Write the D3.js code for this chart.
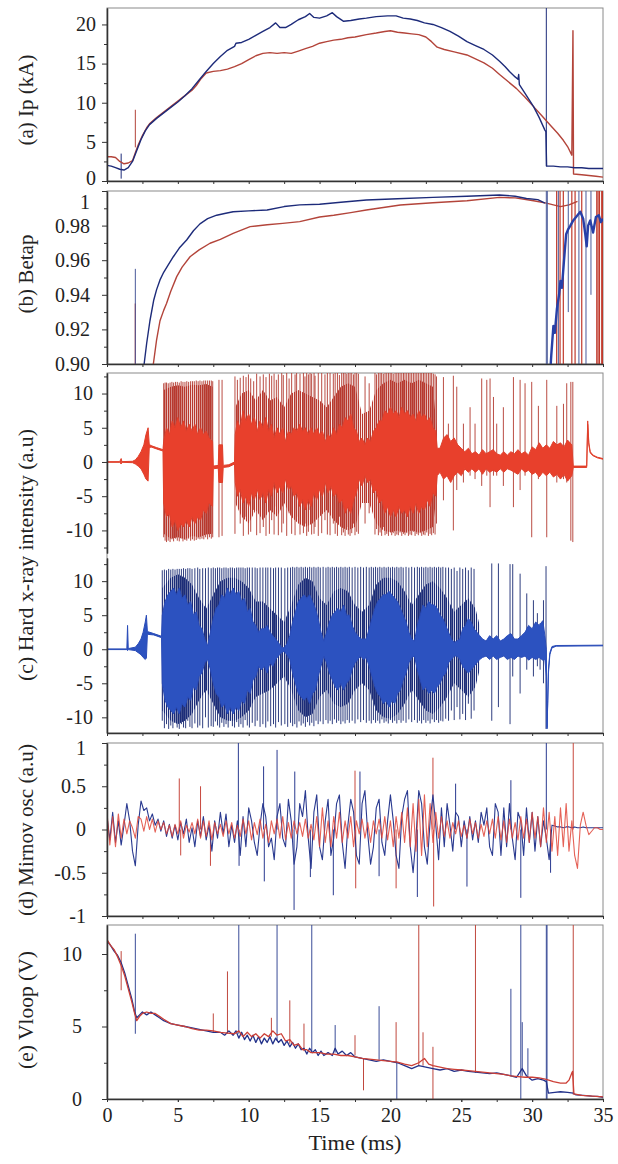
<!DOCTYPE html>
<html>
<head>
<meta charset="utf-8">
<script src="https://cdn.jsdelivr.net/npm/d3@7"></script>
<style>
  html, body { margin: 0; padding: 0; background: #fff; }
  svg { display: block; }
  svg text { font-family: "Liberation Serif", "Liberation Sans", Arial, sans-serif; fill: #222; }
</style>
</head>
<body>
<svg id="chart" width="618" height="1164"></svg>
<script>
// ---------------- tick values ----------------
const timeTicks = [0, 5, 10, 15, 20, 25, 30, 35];
const timeMinorTicks = [0, 2.5, 5, 7.5, 10, 12.5, 15, 17.5, 20, 22.5, 25, 27.5, 30, 32.5, 35];
const ipTicks = [0, 5, 10, 15, 20];
const ipMinor = [2.5, 7.5, 12.5, 17.5];
const betapTicks = [0.90, 0.92, 0.94, 0.96, 0.98, 1.0];
const betapTickLabels = ["0.90", "0.92", "0.94", "0.96", "0.98", "1"];
const betapMinor = [0.91, 0.93, 0.95, 0.97, 0.99];
const xrayTicks = [-10, -5, 0, 5, 10];
const xrayMinor = [-12.5, -7.5, -2.5, 2.5, 7.5, 12.5];
const mirnovTicks = [-1, -0.5, 0, 0.5, 1];
const mirnovTickLabels = ["-1", "-0.5", "0", "0.5", "1"];
const mirnovMinor = [-0.75, -0.25, 0.25, 0.75];
const vloopTicks = [0, 5, 10];
const vloopMinor = [2.5, 7.5];

// ---------------- (a) plasma current, kA : [time ms, value] ----------------
const ipShot1 = [[0,2.0],[0.3,1.9],[0.6,1.7],[0.9,1.5],[1.2,1.4],[1.5,1.7],[1.8,2.5],[2.1,3.9],[2.4,5.3],[2.7,6.4],[3.0,7.2],[3.5,8.0],[4.0,8.7],[4.5,9.4],[5.0,10.1],[5.5,10.9],[6.0,11.8],[6.5,12.9],[7.0,14.0],[7.5,15.0],[8.0,15.9],[8.5,16.7],[9.0,17.2],[9.1,17.6],[9.5,17.7],[10.0,18.1],[10.5,18.6],[11.0,19.1],[11.5,19.6],[11.9,20.2],[12.2,19.6],[12.6,19.6],[13.0,20.0],[13.5,20.6],[14.0,21.0],[14.3,21.4],[14.6,20.9],[15.0,20.8],[15.5,21.1],[15.9,21.5],[16.2,21.0],[16.7,20.4],[17.2,20.5],[17.8,20.7],[18.3,20.8],[19.0,21.0],[19.8,21.1],[20.4,21.1],[20.9,20.8],[21.4,20.7],[21.9,20.5],[22.4,20.2],[23.0,20.0],[23.6,19.6],[24.2,19.1],[24.8,18.5],[25.4,17.8],[26.0,17.3],[26.6,16.8],[27.2,16.1],[27.7,15.3],[28.1,14.6],[28.4,14.0],[28.8,13.3],[29.0,13.0],[29.05,13.6],[29.1,12.3],[29.5,11.2],[30.1,9.5],[30.5,8.1],[30.9,6.5],[30.97,6.3],[31.02,1.9],[31.5,1.9],[32.0,1.8],[32.5,1.8],[33.0,1.7],[33.5,1.7],[34.0,1.6],[34.5,1.6],[35,1.6]];
const ipShot2 = [[0,3.1],[0.3,3.1],[0.6,3.0],[0.9,2.5],[1.2,2.2],[1.5,2.3],[1.8,2.6],[2.0,3.6],[2.2,4.6],[2.5,5.8],[2.8,6.8],[3.0,7.3],[3.5,8.1],[4.0,8.8],[4.5,9.5],[5.0,10.2],[5.5,10.9],[6.0,11.6],[6.3,12.2],[6.6,13.0],[7.0,13.8],[7.5,14.0],[8.0,14.1],[8.5,14.3],[9.0,14.6],[9.5,15.0],[10.0,15.5],[10.5,16.0],[11.0,16.3],[11.5,16.4],[12.0,16.3],[12.5,16.4],[13.0,16.3],[13.5,16.6],[14.0,16.9],[14.5,17.2],[15.0,17.6],[15.5,17.8],[16.0,18.0],[16.5,18.1],[17.0,18.3],[17.5,18.4],[18.3,18.7],[19.0,18.9],[19.6,19.1],[20.0,19.2],[20.5,19.0],[21.0,18.9],[21.5,18.8],[22.0,18.7],[22.5,18.4],[22.9,17.8],[23.3,17.1],[23.8,16.8],[24.5,16.5],[25.4,16.1],[26.0,15.6],[26.6,15.1],[27.2,14.4],[27.7,13.6],[28.3,12.7],[28.9,11.8],[29.5,10.7],[30.1,9.5],[30.7,8.3],[31.3,7.1],[31.8,6.1],[32.2,5.2],[32.5,4.4],[32.8,3.3],[32.88,19.2],[32.92,0.9],[33.5,0.8],[34.0,0.7],[34.5,0.6],[35,0.5]];
// isolated spikes : [time, low, high]
const ipSpikes1 = [[1.0,0.3,3.5],[31.0,1.9,23]];
const ipSpikes2 = [[2.0,4.3,9.1]];

// ---------------- (b) poloidal beta ----------------
const betapShot1 = [[2.55,0.88],[2.62,0.9],[2.8,0.912],[3.03,0.925],[3.3,0.937],[3.5,0.943],[3.74,0.9486],[4.0,0.953],[4.3,0.957],[4.68,0.962],[5.1,0.967],[5.62,0.9717],[6.1,0.977],[6.56,0.981],[7.1,0.984],[7.74,0.986],[8.3,0.987],[8.9,0.988],[10,0.9885],[11.3,0.989],[12.5,0.991],[13.6,0.992],[15,0.9923],[16.5,0.9935],[18.3,0.9948],[20.5,0.9955],[23,0.9963],[25.4,0.997],[27.7,0.9977],[28.8,0.997],[29.6,0.9957],[30.4,0.995],[30.9,0.993]];
const betapShot1Recovery = [[30.98,0.88],[31.2,0.885],[31.35,0.905],[31.5,0.922],[31.6,0.918],[31.75,0.932],[31.9,0.94],[32.0,0.948],[32.1,0.944],[32.25,0.96],[32.4,0.975],[32.55,0.978],[32.7,0.98],[32.9,0.983],[33.1,0.985],[33.4,0.988],[33.6,0.984],[33.75,0.975],[33.85,0.968],[33.95,0.98],[34.1,0.983],[34.3,0.976],[34.5,0.985],[34.7,0.986],[34.85,0.982],[35,0.984]];
const betapShot2 = [[3.2,0.895],[3.27,0.9],[3.5,0.914],[3.74,0.925],[4.0,0.931],[4.2,0.935],[4.5,0.942],[4.92,0.9505],[5.3,0.956],[5.86,0.962],[6.5,0.966],[7.27,0.9698],[8.0,0.972],[8.9,0.9755],[10.1,0.9794],[11.3,0.9805],[12.4,0.9813],[13.6,0.9823],[15,0.985],[16,0.986],[17.2,0.9875],[18.3,0.989],[19.5,0.9905],[20.7,0.9919],[23,0.9932],[25.4,0.9944],[27.7,0.9963],[28.8,0.996],[30.1,0.9944],[31.0,0.993],[32.0,0.991],[32.6,0.992],[33.2,0.994]];
const betapSpikes1 = [[2.0,0.9,0.955],[31.0,0.9,1.0],[31.07,0.9,1.0],[31.85,0.9,1.0],[32.55,0.93,1.0],[33.3,0.9,1.0],[33.8,0.9,1.0],[34.15,0.94,1.0]];
const betapSpikes2 = [[2.0,0.9,0.935],[31.73,0.9,1.0],[31.97,0.9,1.0],[32.2,0.9,1.0],[32.8,0.9,1.0],[33.03,0.9,1.0],[33.5,0.9,1.0],[34.56,0.9,1.0],[34.65,0.9,1.0],[34.75,0.9,1.0],[34.91,0.9,1.0],[34.97,0.9,1.0]];

// ---------------- (c) hard x-ray ----------------
// bright core band, dense-stroke band and full-height strokes, each [time, low, high]
const xrayShot2Core = [[0,-0.05,0.05],[0.9,-0.05,0.05],[1.0,-0.3,0.5],[1.05,-0.05,0.05],[1.8,-0.1,0.1],[2.0,-0.3,0.3],[2.2,-0.6,0.8],[2.4,-1.0,1.5],[2.6,-1.8,2.5],[2.75,-2.5,4.0],[2.9,-2.8,5.0],[2.98,2.0,2.6],[3.1,2.2,2.4],[3.5,1.9,2.1],[3.95,1.6,1.8],
  [4.0,-6,3],[4.2,-8,5],[4.4,-7.5,4],[4.6,-9.5,6],[4.8,-8.5,5],[5.0,-10,6.5],[5.2,-9,5],[5.4,-9.5,6],[5.6,-8.5,4.5],[5.8,-9.5,5.5],[6.0,-8,4.5],[6.2,-9,5.5],[6.4,-8,4],[6.6,-8.5,5],[6.8,-7,4],[7.0,-7.5,4.5],[7.2,-6,3.5],[7.45,-6.5,3],
  [7.5,-1.0,-0.6],[7.85,-0.9,-0.5],[7.9,-3,2.5],[8.15,-3,2.5],[8.2,-0.8,-0.5],[8.6,-0.7,-0.4],[9.0,-0.3,0.0],
  [9.05,-3,4],[9.2,-5,6],[9.4,-4,5],[9.6,-6,7.5],[9.8,-5,6],[10.0,-6.5,7],[10.2,-4.5,5.5],[10.4,-5.5,6.5],[10.6,-4,4.5],[10.8,-5.5,6],[11.0,-4.5,5],[11.2,-6,6.5],[11.4,-4,4.5],[11.6,-5,5.5],[11.8,-3,3.5],[12.0,-4.5,5],[12.2,-3.5,4],[12.4,-4.5,5],[12.6,-2.5,3],[12.8,-4,4.5],[13.0,-3.5,4],[13.2,-5,5],[13.4,-4.5,4.5],[13.6,-6.5,5.5],[13.8,-5.5,4.5],[14.0,-7,5],[14.2,-5.5,4],[14.4,-6.5,5],[14.6,-4.5,4],[14.8,-5.5,5],[15.0,-4,4],[15.2,-5,4.5],[15.4,-3,3],[15.6,-4.5,4],[15.8,-3.5,3.5],[16.0,-5,5],[16.2,-4.5,4],[16.4,-6,5.5],[16.6,-5.5,5],[16.8,-7.5,6.5],[17.0,-6.5,6],[17.2,-7.5,7],[17.4,-5.5,5],[17.6,-4.5,4.5],[17.8,-2.5,3],[18.0,-3.5,3.5],[18.2,-2,2.5],[18.4,-3,3.5],[18.6,-2.5,3],[18.8,-4.5,4.5],[19.0,-4,5],[19.2,-6,6],[19.4,-5.5,6],[19.6,-7.5,7.5],[19.8,-6.5,7],[20.0,-8,8],[20.2,-7,7],[20.4,-8,7.5],[20.6,-6.5,6.5],[20.8,-7.5,8],[21.0,-7,7],[21.2,-8,7.5],[21.4,-6.5,6.5],[21.6,-7.5,7],[21.8,-6,6],[22.0,-7.5,7.5],[22.2,-6.5,6.5],[22.4,-7,7],[22.6,-5.5,6],[22.8,-6.5,6.5],[23.0,-4.5,5],[23.2,-5,4.5],[23.3,-2,2],
  [23.5,-1.5,2],[23.75,-2.5,3.5],[24.0,-2,4],[24.25,-3,3],[24.5,-2,3.5],[24.75,-1.5,2.5],[25.0,-2,2],[25.25,-1,1.5],[25.5,-1.5,2],[25.75,-1,1.2],[26.0,-1.5,1.5],[26.25,-1,1],[26.5,-1.8,1.8],[26.75,-1,1.2],[27.0,-1.5,1.5],[27.25,-1.2,1.8],[27.5,-1.5,1.2],[27.75,-1,1],[28.0,-1.5,1.5],[28.25,-1,1],[28.5,-1.2,1.5],[28.75,-1.5,1.2],[29.0,-1.8,1.8],[29.25,-1,1.2],[29.5,-1.5,1.5],[29.75,-1.2,1],[30.0,-1.8,2.2],[30.25,-1.5,1.8],[30.5,-2.2,2.8],[30.75,-1.5,2],[31.0,-2,2.5],[31.25,-1.5,2],[31.5,-2.2,3],[31.75,-1.8,2.5],[32.0,-2.5,2.8],[32.25,-1.8,2.2],[32.5,-2.8,3.2],[32.8,-2,2.5],
  [32.9,-0.8,-0.6],[33.85,-0.8,-0.6],[33.92,5.5,6.0],[34.0,2.5,2.8],[34.1,1.3,1.5],[34.3,0.9,1.0],[34.6,0.6,0.7],[35,0.4,0.5]];
const xrayShot2Dense = [[4.0,-10.5,10.5],[4.5,-11.2,11],[5.0,-11,11.2],[5.5,-11.3,11],[6.0,-10.8,11.3],[6.5,-11,11.2],[7.0,-10.6,11.4],[7.45,-10.5,11],[7.46,0,0],[9.04,0,0],
  [9.05,-6,8],[9.5,-8,10],[10.0,-9,10.5],[10.5,-7,9],[11.0,-8.5,10.5],[11.5,-7,9],[12.0,-8,9.5],[12.5,-6,8],[13.0,-8,10],[13.5,-9,10.5],[14.0,-9.5,10],[14.5,-9,9.5],[15.0,-8,9],[15.5,-7,8],[16.0,-8.5,9.5],[16.5,-9.5,11],[17.0,-10,11.5],[17.5,-9.5,11],[18.0,-6,7],[18.5,-6,7.5],[19.0,-9,10.5],[19.5,-10,11.5],[20.0,-10.3,12],[20.5,-10,11.5],[21.0,-10.3,12],[21.5,-10,11.5],[22.0,-10.3,12],[22.5,-10,11.5],[23.0,-9.5,11],[23.3,-4,4],[23.31,0,0]];
const xrayShot2Spikes = [[4.0,-11.0,11.5],[4.1,-11.5,11.6],[4.2,-11.7,11.6],[4.32,-11.5,11.5],[4.45,-11.7,11.6],[4.58,-11.3,11.7],[4.7,-11.6,11.6],[4.83,-11.2,11.7],[4.96,-11.5,11.7],[5.1,-11.6,11.6],[5.23,-11.2,11.8],[5.36,-11.6,11.7],[5.5,-11.4,11.7],[5.63,-11.5,11.8],[5.76,-11.2,11.7],[5.9,-11.5,11.8],[6.03,-11.3,11.8],[6.16,-11.5,11.8],[6.3,-11.4,11.9],[6.43,-11.2,11.8],[6.56,-11.3,11.9],[6.7,-11.2,11.8],[6.83,-11.3,11.9],[6.96,-11.0,11.9],[7.1,-11.3,11.9],[7.23,-11.0,11.9],[7.36,-11.2,11.9],[7.46,-11.0,11.8],[7.9,-11.0,12.0],[8.12,-10.8,12.0],
  [9.03,-10.5,12.5],[9.2,-5.0,12.0],[9.4,-9.0,12.3],[9.62,-10.8,12.6],[9.81,-8.0,12.4],[9.98,-10.6,12.8],[10.14,-10.2,12.2],[10.35,-7.0,11.8],[10.56,-10.7,12.9],[10.8,-10.4,12.5],[11.03,-9.5,12.8],[11.22,-10.8,12.4],[11.46,-10.5,12.9],[11.62,-8.5,12.6],[11.79,-10.6,12.9],[11.95,-6.5,12.0],[12.09,-10.7,12.8],[12.33,-10.3,13],[12.44,-9.0,12.7],[12.68,-10.8,13],[12.85,-7.5,12.2],[13.03,-10.5,13],[13.27,-10.7,12.8],[13.38,-8.0,13],[13.62,-10.6,12.9],[13.86,-10.4,13],[13.97,-9.0,12.5],[14.09,-10.8,13],[14.21,-10.2,12.8],[14.33,-7.0,13],[14.44,-10.6,12.9],[14.61,-10.5,13],[14.68,-9.5,12.6],[14.91,-10.8,13],[15.15,-10.4,13],[15.38,-8.5,12.8],[15.55,-10.6,13],[15.74,-10.7,13],[15.97,-9.0,12.9],[16.1,-10.5,13],[16.26,-10.8,13],[16.4,-8.0,12.7],[16.56,-10.7,13],[16.68,-10.3,13],[16.8,-10.8,13],[16.92,-9.5,12.9],[17.03,-10.6,13],[17.15,-10.8,13],[17.27,-10.4,13],[17.4,-9.0,12.8],[17.5,-10.7,13],[17.62,-10.2,13],[17.74,-10.5,12.9],[18.21,-9.0,12.5],[18.5,-7.5,11.5],[18.91,-10.6,13],[19.02,-9.8,12.8],[19.15,-10.7,13],[19.27,-10.3,13],[19.38,-10.8,13],[19.5,-9.5,12.9],[19.62,-10.7,13],[19.74,-10.5,13],[19.86,-10.8,13],[19.98,-10.2,13],[20.09,-10.7,13],[20.2,-10.4,12.9],[20.33,-10.8,13],[20.45,-10.6,13],[20.56,-10.7,13],[20.68,-10.3,13],[20.8,-10.8,13],[20.92,-10.5,13],[21.03,-10.7,13],[21.15,-10.4,13],[21.27,-10.8,13],[21.38,-10.6,13],[21.5,-10.7,13],[21.62,-10.2,13],[21.74,-10.8,13],[21.86,-10.5,13],[21.97,-10.7,13],[22.1,-10.4,13],[22.21,-10.8,13],[22.33,-10.6,13],[22.44,-10.7,13],[22.56,-10.3,13],[22.68,-10.8,13],[22.8,-10.5,13],[22.91,-10.7,13],[23.03,-10.4,12.9],[23.15,-10.6,12.8],[23.25,-9.0,12.5],
  [23.74,-5.6,12.4],[24.09,-2.5,5.6],[24.44,-10.0,12.6],[24.68,-4.1,11.0],[25.15,-3.0,5.6],[25.62,-2.0,8.0],[25.97,-2.5,5.6],[26.44,-3.5,12.2],[26.8,-2.0,12.0],[27.03,-6.6,12.2],[27.27,-2.0,9.5],[27.5,-2.0,5.6],[27.97,-3.5,8.0],[28.68,-6.6,12.4],[29.15,-4.1,12.0],[29.5,-2.0,11.5],[29.97,-11.0,11.7],[30.44,-2.5,8.2],[31.03,-11.0,12.0],[31.74,-3.0,8.2],[32.21,-2.5,8.5],[32.44,-3,11.5],[32.73,-11.5,11.7],[32.87,-11.7,11.7]];

const xrayShot1Core = [[0,-0.05,0.05],[1.4,-0.05,0.05],[1.45,-0.2,3.5],[1.5,-0.05,0.1],[2.0,-0.2,0.3],[2.2,-0.5,0.8],[2.4,-0.8,1.5],[2.55,-1.2,2.5],[2.7,-1.5,4.0],[2.78,-1.3,5.0],[2.85,2.2,2.6],[3.3,2.1,2.3],[3.85,1.7,1.9],
  [3.9,-5,5],[4.1,-7.5,7],[4.3,-8.5,8],[4.5,-9,8.5],[4.7,-9.5,9],[4.9,-8.5,8],[5.1,-9.5,9],[5.3,-8,7.5],[5.5,-8.5,8],[5.7,-7,6.5],[5.9,-7.5,7],[6.1,-5.5,5],[6.3,-6,5.5],[6.5,-4,3.5],[6.7,-3.5,3],[6.9,-2,1.5],[7.1,-1.5,0.5],[7.3,-3,2.5],[7.5,-5,4.5],[7.7,-6.5,6],[7.9,-7,6.5],[8.1,-8.5,8],[8.3,-8,7.5],[8.5,-9.5,9],[8.7,-8.5,8],[8.9,-9.5,9],[9.1,-8.5,8],[9.3,-9,8.5],[9.5,-7.5,7],[9.7,-8,7.5],[9.9,-6,5.5],[10.1,-6.5,6],[10.3,-4.5,4],[10.5,-4,3.5],[10.7,-2.5,2.5],[10.9,-3,3],[11.1,-2.5,3],[11.3,-3.5,3.5],[11.5,-2,2.5],[11.7,-2.5,2],[11.9,-1.5,1.5],[12.1,-1,1],[12.3,-0.5,0.3],[12.5,-0.3,0.2],[12.7,-0.8,0.8],[12.9,-1.5,2],[13.1,-3.5,4],[13.3,-5,5.5],[13.5,-6.5,7],[13.7,-7,7.5],[13.9,-7.5,8],[14.1,-7,7.5],[14.3,-8,8],[14.5,-6.5,7],[14.7,-6,6],[14.9,-4,4.5],[15.1,-2.5,2.5],[15.3,-1,1.2],[15.5,-2,2.5],[15.7,-3.5,4],[15.9,-4.5,5],[16.1,-5.5,5.5],[16.3,-6,6],[16.5,-5,5.5],[16.7,-6,6.5],[16.9,-5,5],[17.1,-4.5,5],[17.3,-3,3.5],[17.5,-2,2.5],[17.7,-1.5,2],[17.9,-1,1.5],[18.1,-1.5,1.5],[18.3,-1.2,1.5],[18.5,-2.5,3],[18.7,-4,4.5],[18.9,-5.5,6],[19.1,-6.5,7],[19.3,-7,7.5],[19.5,-8,8],[19.7,-7.5,8],[19.9,-8.5,8.5],[20.1,-7.5,8],[20.3,-8,7.5],[20.5,-6.5,7],[20.7,-6,6],[20.9,-4.5,5],[21.1,-3.5,4],[21.3,-2,2.5],[21.5,-1.2,1.5],[21.7,-1,1.2],[21.9,-3,3.5],[22.1,-4.5,5],[22.3,-6,6.5],[22.5,-5.5,6],[22.7,-6.5,7],[22.9,-6,6.5],[23.1,-6.5,6.5],[23.3,-5.5,6],[23.5,-5,5],[23.7,-4,4.5],[23.9,-3.5,3.5],[24.1,-2,2.5],[24.3,-1.5,1.5],[24.5,-1,1],[24.7,-1,1.2],[24.9,-1.5,1.5],[25.1,-2.5,3],[25.3,-3,3.5],[25.5,-3.5,4.5],[25.7,-3,4],[25.9,-2.5,3],[26.1,-2,2.5],[26.3,-1.5,2],[26.5,-1.2,1.5],
  [26.75,-1,1.2],[27.0,-1.5,2],[27.25,-1,1.5],[27.5,-1.5,2],[27.75,-1.2,1.2],[28.0,-1,1.5],[28.25,-1.5,2],[28.5,-1.2,2.3],[28.75,-1.5,1.5],[29.0,-1,1.5],[29.25,-1.2,2],[29.5,-1,2.5],[29.75,-1.6,3.5],[30.0,-1.2,3],[30.25,-1.5,4],[30.5,-1.2,3.5],[30.75,-1.6,4.2],[30.9,-1.5,2],
  [31.0,-4.0,0.0],[31.05,-11.7,-11.5],[31.1,-8,-7.5],[31.15,-3.5,-3],[31.25,-0.8,-0.5],[31.4,0.2,0.4],[31.7,0.45,0.55],[35,0.5,0.6]];
const xrayShot1Dense = [[3.89,0,0],[3.9,-9,9],[4.5,-10.5,10.5],[5.0,-11,11],[5.5,-10.5,10.5],[6.0,-9.5,9.5],[6.5,-7.5,7.5],[7.0,-6,6],[7.5,-8,8],[8.0,-10,10],[8.5,-10.5,10.5],[9.0,-10.5,10.5],[9.5,-10,10],[10.0,-9,9],[10.5,-7,7],[11.0,-6.5,7],[11.5,-6,6],[12.0,-5,5],[12.5,-4,4],[13.0,-6,6.5],[13.5,-9,9.5],[14.0,-10,10.5],[14.5,-9.5,10],[15.0,-7,7.5],[15.5,-6,6.5],[16.0,-8,8.5],[16.5,-8.5,9],[17.0,-8,8.5],[17.5,-6,6.5],[18.0,-5,5.5],[18.5,-6,6.5],[19.0,-9,9.5],[19.5,-10,10.5],[20.0,-10.2,10.5],[20.5,-9.5,10],[21.0,-8,8.5],[21.5,-6,6.5],[22.0,-7.5,8],[22.5,-9,9.5],[23.0,-9.5,10],[23.5,-8.5,9],[24.0,-7,7.5],[24.5,-5,5.5],[25.0,-6,6.5],[25.5,-7,7.5],[26.0,-5.5,6],[26.3,-3,3.5],[26.31,0,0]];
const xrayShot1Spikes = [[3.9,-10.5,11.6],[4.05,-11.6,11.7],[4.2,-11.0,11.6],[4.35,-11.7,11.8],[4.5,-11.2,11.7],[4.65,-11.6,11.8],[4.8,-10.8,11.7],[4.95,-11.5,11.8],[5.1,-11.7,11.8],[5.25,-11.0,11.8],[5.4,-11.5,11.9],[5.55,-11.6,11.8],[5.7,-10.5,11.9],[5.85,-11.4,11.9],[6.0,-11.6,11.8],[6.2,-10.9,11.9],[6.4,-11.5,12.0],[6.55,-11.2,11.8],[6.75,-11.6,11.9],[6.95,-10.0,11.9],[7.15,-11.5,12.0],[7.35,-11.3,11.9],[7.5,-11.4,12.0],[7.65,-10.6,11.9],[7.8,-11.2,12.0],[7.95,-11.5,12.0],[8.1,-10.8,11.9],[8.25,-11.4,12.0],[8.4,-11.0,12.0],[8.55,-11.5,11.9],[8.7,-10.5,12.0],[8.85,-11.3,12.0],[9.0,-11.5,11.9],[9.15,-10.7,12.0],[9.3,-11.4,12.0],[9.45,-11.0,12.0],[9.6,-11.5,12.0],[9.75,-10.4,11.9],[9.9,-11.2,12.0],[10.05,-11.5,12.0],[10.25,-10.8,12.0],[10.45,-11.3,12.0],[10.6,-10.5,11.9],[10.8,-11.4,12.0],[11.0,-11.0,12.0],[11.2,-11.5,12.0],[11.35,-10.6,12.0],[11.55,-11.3,12.0],[11.75,-11.0,11.9],[11.9,-11.5,12.0],[12.1,-10.7,12.0],[12.3,-11.2,12.0],[12.55,-11.0,11.9],[12.75,-11.4,12.0],[12.95,-10.8,12.0],[13.1,-11.3,12.1],[13.25,-11.0,12.0],[13.4,-11.5,12.1],[13.55,-10.6,12.0],[13.7,-11.2,12.1],[13.85,-10.9,12.0],[14.0,-11.4,12.1],[14.15,-10.7,12.0],[14.3,-11.2,12.1],[14.45,-10.8,12.0],[14.6,-11.3,12.1],[14.75,-10.5,12.0],[14.9,-11.0,12.1],[15.05,-10.6,12.0],[15.25,-11.0,12.1],[15.45,-10.4,12.0],[15.6,-10.9,12.1],[15.75,-10.5,12.0],[15.9,-11.0,12.1],[16.05,-10.3,12.0],[16.2,-10.8,12.1],[16.35,-10.5,12.0],[16.5,-11.0,12.1],[16.65,-10.6,12.0],[16.8,-10.9,12.1],[16.95,-10.4,12.0],[17.1,-10.8,12.1],[17.3,-10.5,12.0],[17.5,-10.9,12.1],[17.7,-10.3,12.0],[17.9,-10.7,12.1],[18.1,-10.4,12.0],[18.3,-10.8,12.1],[18.5,-10.5,12.0],[18.65,-10.9,12.1],[18.8,-10.4,12.0],[18.95,-10.8,12.1],[19.1,-10.5,12.0],[19.25,-10.9,12.1],[19.4,-10.3,12.0],[19.55,-10.8,12.1],[19.7,-10.6,12.0],[19.85,-10.9,12.1],[20.0,-10.4,12.0],[20.15,-10.8,12.1],[20.3,-10.5,12.0],[20.45,-10.9,12.1],[20.6,-10.4,12.0],[20.75,-10.8,12.1],[20.9,-10.5,12.0],[21.1,-10.8,12.1],[21.3,-10.3,12.0],[21.5,-10.7,12.1],[21.7,-10.4,12.0],[21.9,-10.8,12.1],[22.05,-10.5,12.0],[22.2,-10.9,12.1],[22.35,-10.4,12.0],[22.5,-10.8,12.1],[22.65,-10.5,12.0],[22.8,-10.9,12.1],[22.95,-10.3,12.0],[23.1,-10.7,12.1],[23.25,-10.4,12.0],[23.4,-10.8,12.1],[23.55,-10.5,12.0],[23.7,-10.6,12.1],[23.9,-10.2,12.0],[24.1,-10.5,12.0],[24.3,-9.0,11.8],[24.5,-10.4,12.0],[24.7,-8.5,11.5],[24.9,-10.3,12.0],[25.1,-9.5,11.8],[25.3,-10.4,12.0],[25.5,-8.0,11.6],[25.7,-10.2,12.0],[25.9,-9.0,11.8],
  [27.15,-10.5,12.6],[27.62,-8.5,12.6],[28.44,-11.0,12.5],[28.63,-4.0,12.5],[29.15,-6.5,11.1],[29.62,-3.0,8.2],[30.09,-4.0,7.2],[30.37,-2.5,5.3],[30.56,-3.0,3.8],[30.8,-5.0,7.2],[30.98,-11.7,12.2]];

// ---------------- (d) Mirnov oscillation, sampled every 0.2 ms ----------------
const mirnovStep = 0.2;
const mirnovShot1 = [
  0.15,-0.12,0.2,-0.15,0.1,-0.18,0.05,0.3,0.1,-0.25,
  -0.42,0.05,0.33,0.22,0.25,0.1,0.18,0.05,0.12,-0.02,
  0.1,-0.08,0.06,-0.1,0.05,-0.12,0.08,-0.05,0.12,-0.15,
  0.02,-0.2,0.1,-0.08,0.15,-0.12,0.05,-0.25,0.1,-0.1,
  0.2,-0.05,0.18,-0.2,0.05,-0.15,0.1,-0.3,0.15,-0.2,
  0.25,0.1,-0.15,-0.3,0.05,0.3,0.15,-0.2,-0.1,-0.35,
  0.15,0.3,-0.1,-0.2,0.35,0.1,-0.4,-0.2,0.3,0.15,
  0.45,-0.1,-0.45,0.2,0.4,-0.2,-0.35,0.1,0.35,-0.3,
  -0.1,0.3,0.4,-0.15,-0.45,0.05,0.35,0.2,-0.3,-0.4,
  0.3,0.45,-0.05,-0.4,-0.2,0.25,0.35,-0.15,-0.3,0.1,
  0.4,0.1,-0.3,-0.45,0.15,0.35,0.45,-0.2,-0.5,-0.1,
  0.45,0.3,-0.2,-0.4,0.1,0.4,0.05,-0.35,0.25,-0.2,
  0.3,0.05,-0.25,0.2,0.15,-0.2,0.1,-0.1,0.15,-0.12,
  0.1,-0.15,0.2,0.05,0.25,-0.2,-0.3,0.3,0.2,-0.3,
  0.25,-0.2,0.3,-0.1,-0.35,0.2,0.1,-0.3,0.25,-0.15,
  0.2,-0.25,0.15,-0.2,0.1,-0.1,-0.35,0.05,0.04,0.03,
  0.03,0.02,0.03,0.03,0.02,0.03,0.02,0.02,0.03,0.02,
  0.02,0.02,0.02,0.02,0.02,0.02];
const mirnovShot2 = [
  0.2,-0.18,0.15,-0.2,0.18,-0.1,0.12,-0.05,0.1,0.02,
  -0.1,0.15,0.12,-0.02,0.15,0.0,0.12,-0.03,0.1,0.0,
  0.08,-0.05,0.05,-0.08,0.06,-0.05,0.1,-0.1,0.05,-0.03,
  0.08,-0.05,0.12,-0.1,0.1,-0.08,0.1,-0.12,0.08,-0.05,
  0.06,-0.08,0.1,-0.05,0.08,-0.1,0.05,-0.08,0.12,-0.05,
  0.1,-0.12,0.08,-0.06,0.12,-0.1,0.06,-0.15,0.1,-0.05,
  0.12,-0.1,0.15,-0.12,0.08,-0.1,0.1,-0.05,0.08,-0.08,
  0.12,-0.1,0.06,-0.12,0.15,-0.2,0.25,-0.15,0.1,-0.2,
  0.15,-0.1,0.2,-0.15,0.1,-0.1,0.15,-0.2,0.1,-0.05,
  0.12,-0.1,0.08,-0.15,0.1,-0.05,0.12,-0.1,0.15,-0.12,
  0.1,-0.2,0.15,-0.1,0.2,-0.15,0.25,-0.2,0.3,-0.25,
  0.35,-0.3,0.4,-0.2,0.3,-0.15,0.2,-0.1,0.15,-0.08,
  0.1,-0.1,0.08,-0.05,0.1,-0.08,0.05,-0.1,0.12,-0.05,
  0.08,-0.1,0.06,-0.08,0.1,-0.05,0.12,-0.1,0.15,-0.12,
  0.1,-0.15,0.12,-0.1,0.08,-0.12,0.15,-0.1,0.12,-0.15,
  0.2,-0.1,0.15,-0.2,0.25,-0.15,0.2,-0.25,0.15,-0.3,
  0.25,-0.2,0.3,-0.25,0.1,-0.3,-0.45,0.05,0.2,0.05,
  -0.06,-0.02,0.02,0.02,0.0,0.0];
// single-sample bursts : [time, value]
const mirnovSpikes1 = [[9.27,1.0],[9.32,-0.42],[11.05,0.73],[11.1,-0.6],[12.0,0.92],[13.2,-0.93],[13.25,0.67],[14.35,-0.55],[15.97,-0.76],[17.85,0.67],[19.2,-0.54],[21.9,-0.78],[24.6,0.53],[25.4,-0.66],[28.5,0.57],[29.2,-0.79],[31.0,1.0],[31.3,-0.5]];
const mirnovSpikes2 = [[5.1,0.59],[5.2,-0.3],[6.6,0.5],[7.3,-0.42],[17.5,0.68],[17.55,-0.68],[20.4,-0.68],[23.0,0.83],[23.05,-0.89],[32.9,1.0]];

// ---------------- (e) loop voltage, V ----------------
const vloopShot1 = [[0,10.9],[0.25,10.6],[0.5,10.2],[0.75,9.9],[1.0,9.4],[1.25,8.7],[1.5,7.8],[1.75,6.9],[1.95,6.0],[2.1,5.6],[2.3,5.8],[2.5,6.0],[2.8,5.8],[3.1,6.0],[3.4,5.8],[3.7,5.6],[4.0,5.4],[4.5,5.2],[5.0,5.1],[5.5,5.0],[6.0,4.9],[6.5,4.8],[7.0,4.7],[7.5,4.6],[8.0,4.6],[8.3,4.4],[8.6,4.7],[8.9,4.4],[9.1,4.7],[9.3,4.2],[9.5,4.6],[9.7,4.1],[9.9,4.4],[10.1,4.0],[10.3,4.4],[10.5,3.9],[10.7,4.3],[10.9,3.8],[11.1,4.2],[11.3,3.9],[11.5,4.3],[11.7,3.8],[11.9,4.2],[12.1,3.9],[12.3,4.1],[12.5,3.7],[12.7,4.0],[12.9,3.6],[13.1,3.9],[13.3,3.5],[13.5,3.8],[13.7,3.4],[13.9,3.5],[14.1,3.1],[14.3,3.5],[14.5,3.2],[14.7,3.4],[14.9,3.0],[15.1,3.3],[15.3,3.0],[15.6,3.2],[15.9,3.0],[16.1,3.5],[16.3,3.1],[16.6,3.3],[16.9,3.0],[17.2,3.2],[17.5,2.9],[18.0,2.8],[18.5,2.7],[19.0,2.6],[19.5,2.7],[20.0,2.6],[20.5,2.5],[21.0,2.3],[21.5,2.1],[22.0,2.3],[22.5,2.2],[23.0,2.1],[23.5,2.0],[24.0,2.1],[24.5,1.9],[25.0,2.0],[25.5,1.9],[26.0,1.85],[26.5,1.8],[27.0,1.75],[27.5,1.8],[28.0,1.7],[28.5,1.6],[28.9,1.5],[29.3,2.1],[29.6,1.6],[30.0,1.3],[30.4,1.4],[30.8,1.3],[31.0,1.2],[31.15,0.4],[31.6,0.45],[32.0,0.5],[32.5,0.45],[32.9,0.4],[33.1,0.28],[33.6,0.25],[34.2,0.2],[34.6,0.18],[35,0.12]];
const vloopShot2 = [[0,11.0],[0.25,10.6],[0.5,10.3],[0.75,9.8],[1.0,9.2],[1.25,8.5],[1.5,7.6],[1.75,6.7],[1.95,5.9],[2.1,5.4],[2.3,5.7],[2.5,5.9],[2.8,6.0],[3.1,5.9],[3.4,5.9],[3.7,5.7],[4.0,5.5],[4.5,5.2],[5.0,5.1],[5.5,5.0],[6.0,4.85],[6.5,4.75],[7.0,4.75],[7.5,4.7],[8.0,4.6],[8.5,4.55],[9.0,4.5],[9.3,4.7],[9.6,4.3],[9.9,4.6],[10.2,4.3],[10.5,4.5],[10.8,4.2],[11.1,4.5],[11.4,4.3],[11.7,4.7],[12.0,4.4],[12.3,4.5],[12.6,4.0],[12.9,4.1],[13.2,3.7],[13.5,3.8],[13.8,3.4],[14.1,3.4],[14.4,3.2],[15.0,3.2],[15.5,3.1],[16.0,3.1],[16.5,3.0],[17.0,3.0],[17.5,2.9],[18.0,2.8],[18.5,2.75],[19.0,2.7],[19.5,2.65],[20.0,2.6],[20.5,2.55],[21.0,2.4],[21.5,2.3],[22.0,2.5],[22.4,2.8],[22.7,2.4],[23.0,2.3],[23.5,2.2],[24.0,2.1],[24.5,2.05],[25.0,2.0],[25.5,1.95],[26.0,1.9],[26.5,1.85],[27.0,1.8],[27.5,1.75],[28.0,1.7],[28.5,1.6],[29.0,1.55],[29.5,1.5],[30.0,1.5],[30.5,1.45],[31.0,1.35],[31.5,1.2],[32.0,1.1],[32.4,1.1],[32.6,1.3],[32.8,1.8],[32.85,1.9],[32.95,0.35],[33.5,0.25],[34.0,0.22],[34.5,0.18],[35,0.15]];
const vloopSpikes1 = [[2.0,4.5,11.4],[9.3,4.5,12],[12.0,4.0,12],[14.45,3.3,12],[16.1,3.2,5.1],[19.2,2.7,6.4],[20.45,0,2.6],[28.5,1.6,7.6],[29.2,0,12],[29.3,1.6,5.3],[29.7,1.6,3.5],[31.0,0,12],[31.05,0,12]];
const vloopSpikes2 = [[1.0,7.5,10.2],[7.5,4.6,5.9],[8.5,4.5,8.8],[11.6,4.3,5.6],[12.9,3.8,6.8],[13.9,3.3,5.2],[17.5,3.0,4.4],[18.1,0.6,2.8],[20.4,2.5,5.3],[22.0,2.3,12],[22.3,2.3,4.6],[23.0,0,3.6],[26.0,1.8,12],[32.9,0.3,12]];

// ---------------- drawing ----------------
const svg = d3.select("#chart");
const X0 = 107, X1 = 603;
const x = d3.scaleLinear().domain([0, 35]).range([X0, X1]);
const BLUE = "#1d2b7a", RED = "#b3443a";
const FONT = '"Liberation Serif", "Liberation Sans", Arial, sans-serif';
const TICK_FONT = 20;

const defs = svg.append("defs");
function clip(id, top, bottom) {
  defs.append("clipPath").attr("id", id)
    .append("rect").attr("x", X0).attr("y", top).attr("width", X1 - X0).attr("height", bottom - top);
  return "url(#" + id + ")";
}
// vertical hairline fill used for the densely packed x-ray strokes
function stripes(id, color) {
  const p = defs.append("pattern").attr("id", id).attr("patternUnits", "userSpaceOnUse")
    .attr("width", 2).attr("height", 4);
  p.append("rect").attr("x", 0).attr("y", 0).attr("width", 1.1).attr("height", 4).attr("fill", color);
  return "url(#" + id + ")";
}

function frame(top, bottom) {
  svg.append("rect").attr("x", X0).attr("y", top).attr("width", X1 - X0).attr("height", bottom - top)
    .attr("fill", "none").attr("stroke", "#8a8a8a").attr("stroke-width", 1);
}

function styleAxis(g) {
  g.attr("font-family", FONT);
  g.select(".domain").attr("stroke", "#333").attr("stroke-width", 1.3);
  g.selectAll(".tick line").attr("stroke", "#333").attr("stroke-width", 1);
  g.selectAll(".tick text").attr("font-size", TICK_FONT).attr("fill", "#222").attr("font-family", FONT);
}

// shift: {value: pixel offset} to nudge individual tick labels vertically
function yAxis(y, major, labels, minor, gap, shift) {
  const dom = y.domain();
  const minorIn = minor.filter(v => v >= Math.min(...dom) && v <= Math.max(...dom));
  const gMinor = svg.append("g").attr("transform", `translate(${X0},0)`)
    .call(d3.axisLeft(y).tickValues(minorIn).tickSize(3).tickSizeOuter(0).tickFormat(""));
  styleAxis(gMinor);
  const g = svg.append("g").attr("transform", `translate(${X0},0)`)
    .call(d3.axisLeft(y).tickValues(major).tickSize(5).tickSizeOuter(0).tickPadding(gap)
      .tickFormat((d, i) => labels ? labels[i] : d));
  styleAxis(g);
  if (shift) {
    g.selectAll(".tick").filter(d => shift[d] !== undefined).select("text").attr("y", d => shift[d]);
  }
}

function xAxis(bottom, withLabels) {
  const g = svg.append("g").attr("transform", `translate(0,${bottom})`)
    .call(d3.axisBottom(x).tickValues(timeMinorTicks).tickSize(3).tickSizeOuter(0).tickFormat(""));
  styleAxis(g);
  if (withLabels) {
    const gl = svg.append("g").attr("transform", `translate(0,${bottom})`)
      .call(d3.axisBottom(x).tickValues(timeTicks).tickSize(3).tickSizeOuter(0).tickPadding(6));
    styleAxis(gl);
    gl.select(".domain").remove();
  }
}

function yTitle(text, cy, len) {
  svg.append("text").attr("transform", `translate(33,${cy}) rotate(-90)`)
    .attr("text-anchor", "middle").attr("font-size", 21).attr("font-family", FONT)
    .attr("textLength", len).attr("lengthAdjust", "spacingAndGlyphs").text(text);
}

function trace(y, data, color, width, clipUrl, opacity) {
  svg.append("path").datum(data).attr("clip-path", clipUrl)
    .attr("fill", "none").attr("stroke", color).attr("stroke-width", width).attr("stroke-linejoin", "round")
    .attr("stroke-opacity", opacity || 1)
    .attr("d", d3.line().x(d => x(d[0])).y(d => y(d[1])));
}

function spikes(y, data, color, width, clipUrl, opacity) {
  svg.append("g").attr("clip-path", clipUrl).selectAll("line").data(data).join("line")
    .attr("x1", d => x(d[0])).attr("x2", d => x(d[0]))
    .attr("y1", d => y(d[1])).attr("y2", d => y(d[2]))
    .attr("stroke", color).attr("stroke-width", width).attr("stroke-opacity", opacity || 1);
}

function band(y, data, fill, clipUrl, stroke) {
  svg.append("path").datum(data).attr("clip-path", clipUrl)
    .attr("fill", fill).attr("stroke", stroke || "none").attr("stroke-width", 1).attr("stroke-linejoin", "round")
    .attr("d", d3.area().x(d => x(d[0])).y0(d => y(d[1])).y1(d => y(d[2])));
}

// (a) Ip
{
  const top = 8, bottom = 181;
  const y = d3.scaleLinear().domain([0, 22.1]).range([bottom, top]);
  const c = clip("clip-a", top, bottom);
  frame(top, bottom);
  spikes(y, ipSpikes1, BLUE, 1, c);
  spikes(y, ipSpikes2, RED, 1, c);
  trace(y, ipShot2, RED, 1.4, c);
  trace(y, ipShot1, BLUE, 1.4, c);
  yAxis(y, ipTicks, null, ipMinor, 6, {0: -3});
  xAxis(bottom, false);
  yTitle("(a) Ip (kA)", 100, 91);
}

// (b) Betap
{
  const top = 191, bottom = 364;
  const y = d3.scaleLinear().domain([0.9, 1.0]).range([bottom, top]);
  const c = clip("clip-b", top, bottom);
  frame(top, bottom);
  trace(y, betapShot2, RED, 1.4, c);
  trace(y, betapShot1, BLUE, 1.4, c);
  spikes(y, betapSpikes2, "#c0392b", 1.2, c);
  spikes(y, betapSpikes1, "#4a5a9a", 1, c);
  trace(y, betapShot1Recovery, "#2840a8", 2.4, c);
  yAxis(y, betapTicks, betapTickLabels, betapMinor, 12, {1: 11});
  xAxis(bottom, false);
  yTitle("(b) Betap", 274, 79);
}

// (c) hard x-ray, two stacked traces sharing one box
{
  const top = 373, bottom = 733;
  frame(top, bottom);
  const yU = d3.scaleLinear().domain([-13.3, 13.0]).range([553, top]);
  const yL = d3.scaleLinear().domain([-12.3, 13.4]).range([bottom, 558]);
  const cU = clip("clip-c1", top, 553);
  const cL = clip("clip-c2", 558, bottom);
  const redLines = stripes("hair-red", "#b8382e");
  const blueLines = stripes("hair-blue", "#1c2c78");
  spikes(yU, xrayShot2Spikes, "#b33a30", 1, cU, 0.9);
  band(yU, xrayShot2Dense, redLines, cU);
  band(yU, xrayShot2Core, "#e8402c", cU, "#e0402c");
  spikes(yL, xrayShot1Spikes, "#1a2a72", 1, cL, 0.9);
  band(yL, xrayShot1Dense, blueLines, cL);
  band(yL, xrayShot1Core, "#2c52c0", cL, "#2a4cb8");
  yAxis(yU, xrayTicks, null, xrayMinor, 9);
  yAxis(yL, xrayTicks, null, xrayMinor, 9);
  xAxis(bottom, false);
  yTitle("(c) Hard x-ray intensity (a.u)", 555, 252);
}

// (d) Mirnov oscillation
{
  const top = 743, bottom = 916;
  const y = d3.scaleLinear().domain([-1, 1]).range([bottom, top]);
  const c = clip("clip-d", top, bottom);
  frame(top, bottom);
  const s1 = mirnovShot1.map((v, i) => [i * mirnovStep, v]);
  const s2 = mirnovShot2.map((v, i) => [i * mirnovStep, v]);
  spikes(y, mirnovSpikes1.map(d => [d[0], 0, d[1]]), "#2a3a90", 1, c);
  spikes(y, mirnovSpikes2.map(d => [d[0], 0, d[1]]), "#c8483e", 1, c);
  trace(y, s1, "#2a3a90", 1.1, c);
  trace(y, s2, "#e0463a", 1.1, c, 0.85);
  yAxis(y, mirnovTicks, mirnovTickLabels, mirnovMinor, 16, {1: 5});
  xAxis(bottom, false);
  yTitle("(d) Mirnov osc (a.u)", 830, 172);
}

// (e) loop voltage
{
  const top = 925, bottom = 1099;
  const y = d3.scaleLinear().domain([0, 12]).range([bottom, top]);
  const c = clip("clip-e", top, bottom);
  frame(top, bottom);
  spikes(y, vloopSpikes1, "#3a4c98", 1, c);
  spikes(y, vloopSpikes2, "#c0483e", 1, c);
  trace(y, vloopShot1, "#22318a", 1.3, c);
  trace(y, vloopShot2, "#cc3f36", 1.3, c);
  yAxis(y, vloopTicks, null, vloopMinor, 20);
  xAxis(bottom, true);
  yTitle("(e) Vloop (V)", 1010, 118);
}

svg.append("text").attr("x", 355).attr("y", 1150).attr("text-anchor", "middle")
  .attr("font-size", 22).attr("font-family", FONT)
  .attr("textLength", 93).attr("lengthAdjust", "spacingAndGlyphs").text("Time (ms)");
</script>
</body>
</html>
